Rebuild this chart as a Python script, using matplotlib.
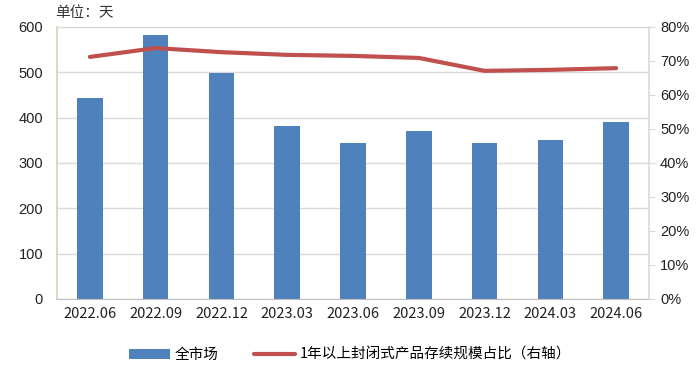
import matplotlib
matplotlib.use('Agg')
import matplotlib.pyplot as plt
import numpy as np

plt.rcParams['font.family'] = ['Liberation Sans', 'Noto Sans CJK SC', 'DejaVu Sans']

# data
periods = ['2022.06', '2022.09', '2022.12', '2023.03', '2023.06',
           '2023.09', '2023.12', '2024.03', '2024.06']
days = [443, 582, 498, 382, 344, 371, 344, 351, 390]
ratio = [71.2, 73.8, 72.6, 71.8, 71.5, 70.9, 67.1, 67.4, 67.9]

bar_color = '#4F81BD'
line_color = '#C0504D'

fig = plt.figure(figsize=(7, 3.74), dpi=100)
ax1 = fig.add_axes([57/700, 1-299/374, (649-57)/700, (299-27)/374])
x = np.arange(len(periods))

ax1.bar(x, days, width=0.39, color=bar_color, zorder=2, label='全市场')
ax1.set_ylim(0, 600)
ax1.set_xlim(-0.5, len(periods)-0.5)
ax1.set_yticks(range(0, 601, 100))
ax1.yaxis.grid(True, color='#D9D9D9', linewidth=1, zorder=0)
ax1.set_xticks(x)
ax1.set_xticklabels(periods, fontfamily=['Noto Sans CJK SC'], fontsize=10.5, color='#222222')
ax1.tick_params(axis='x', length=0, pad=6)
ax1.tick_params(axis='y', length=0, labelsize=10.5, colors='#222222', pad=10)
for s in ['top']:
    ax1.spines[s].set_visible(False)
ax1.spines['left'].set_color('#DDD8C4')
ax1.spines['left'].set_linewidth(1.5)
ax1.spines['bottom'].set_color('#BFBFBF')
ax1.spines['right'].set_visible(False)

ax2 = ax1.twinx()
ax2.plot(x, ratio, color=line_color, linewidth=3, solid_capstyle='round',
         label='1年以上封闭式产品存续规模占比（右轴）', zorder=3)
ax2.set_ylim(0, 80)
ax2.set_yticks(range(0, 81, 10))
ax2.set_yticklabels([f'{v}%' for v in range(0, 81, 10)])
ax2.tick_params(axis='y', length=4, color='#D9D9D9', labelsize=10.5, colors='#222222', pad=4)
for s in ['top', 'left', 'bottom']:
    ax2.spines[s].set_visible(False)
ax2.spines['right'].set_color('#D9D9D9')
ax2.spines['right'].set_linewidth(1.2)

fig.text(55/700, 1-13/374, '单位：天', fontfamily=['Noto Sans CJK SC'], fontsize=10.5,
         color='#333333', va='center', ha='left')

h1, l1 = ax1.get_legend_handles_labels()
h2, l2 = ax2.get_legend_handles_labels()
leg = fig.legend(h1 + h2, l1 + l2, loc='center', bbox_to_anchor=(0.5, 1-355/374),
                 ncol=2, frameon=False, prop={'family': ['Noto Sans CJK SC'], 'size': 10.5},
                 handlelength=2.8, columnspacing=2.5, handletextpad=0.3)

fig.savefig('out.png', dpi=100)
